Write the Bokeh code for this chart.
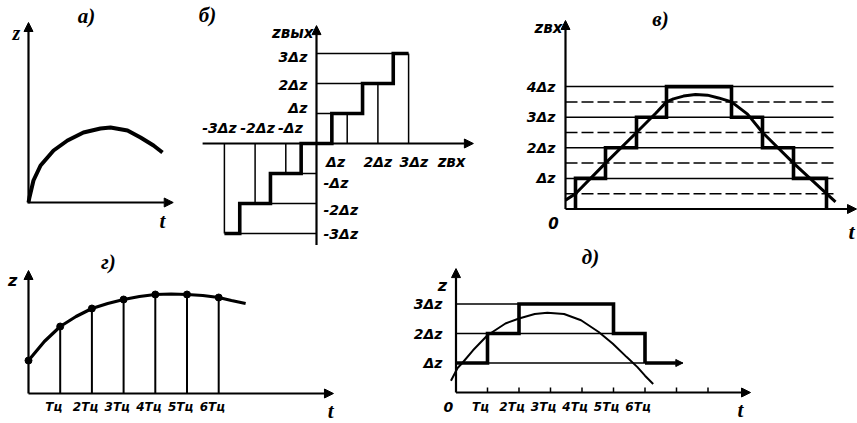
from bokeh.plotting import figure
from bokeh.models import Range1d, Arrow, NormalHead, Label
from bokeh.layouts import column, row
from bokeh.embed import file_html
from bokeh.resources import INLINE

# ---------------------------------------------------------------- data
# а) continuous signal z(t)
a_t = [0.0, 0.07, 0.37, 0.9, 1.87, 2.91, 4.1, 5.37, 6.12, 7.39, 8.36, 9.33, 10.0]
a_z = [0.0, 0.5, 2.2, 3.7, 5.2, 6.2, 7.0, 7.4, 7.5, 7.2, 6.5, 5.7, 5.0]

# б) quantizer characteristic z_out(z_in), in units of Δz
b_levels = [-3, -2, -1, 0, 1, 2, 3]
b_thresholds = [-2.5, -1.5, -0.5, 0.5, 1.5, 2.5]
b_span = 3
b_x_labels_pos = ["Δz", "2Δz", "3Δz"]
b_x_labels_neg = ["-3Δz", "-2Δz", "-Δz"]
b_y_labels_pos = ["Δz", "2Δz", "3Δz"]
b_y_labels_neg = ["-Δz", "-2Δz", "-3Δz"]

# в) level quantization of a signal
v_t = [0.0, 1.0, 4.0, 7.1, 9.0, 10.1, 10.8, 11.8, 13.0, 14.2, 15.3, 16.6, 18.2, 19.7, 22.8, 26.1, 27.0]
v_z = [0.29, 0.5, 1.5, 2.5, 3.12, 3.5, 3.60, 3.69, 3.74, 3.72, 3.63, 3.5, 3.10, 2.5, 1.5, 0.5, 0.23]
v_switch_t = [1.0, 4.0, 7.1, 10.1, 16.6, 19.7, 22.8, 26.1]
v_switch_level = [1, 2, 3, 4, 3, 2, 1, 0]
v_levels = [1, 2, 3, 4]
v_half_levels = [0.5, 1.5, 2.5, 3.5]
v_level_labels = ["Δz", "2Δz", "3Δz", "4Δz"]
v_t_end = 26.8

# г) time sampling with period Tц
g_k = [0, 1, 2, 3, 4, 5, 6]
g_samples = [3.3, 6.7, 8.5, 9.4, 9.9, 9.9, 9.6]
g_curve_t = [0, 0.5, 1, 1.5, 2, 2.5, 3, 3.5, 4, 4.5, 5, 5.5, 6, 6.4, 6.85]
g_curve_z = [3.3, 5.2, 6.7, 7.7, 8.5, 9.0, 9.4, 9.7, 9.9, 9.95, 9.9, 9.8, 9.6, 9.3, 9.0]
g_tick_labels = ["Tц", "2Tц", "3Tц", "4Tц", "5Tц", "6Tц"]

# д) sampling and quantization combined
d_curve_t = [-0.16, 0.05, 0.2, 0.54, 1.0, 1.57, 2.0, 2.5, 2.9, 3.43, 3.97, 4.53, 4.98, 5.42, 5.76, 6.0, 6.26]
d_curve_z = [0.40, 0.83, 1.0, 1.43, 1.94, 2.34, 2.51, 2.66, 2.70, 2.66, 2.45, 2.05, 1.65, 1.20, 0.86, 0.57, 0.29]
d_start_level = 1
d_switch_t = [1, 2, 5, 6]
d_switch_level = [2, 3, 2, 1]
d_end_t = 7.2
d_levels = [1, 2, 3]
d_level_labels = ["Δz", "2Δz", "3Δz"]
d_ticks = [1, 2, 3, 4, 5, 6, 7, 8]
d_tick_labels = ["Tц", "2Tц", "3Tц", "4Tц", "5Tц", "6Tц"]

# ---------------------------------------------------------------- style
SANS = "DejaVu Sans"
SERIF = "Liberation Serif"
INK = "black"
THICK = 3.6
THIN = 1.5
AXIS = 2.2
LBL = "14px"


def panel(w, h, ox, oy, sx, sy):
    """Blank drawing area whose data origin sits at pixel (ox, oy) from the top-left."""
    return figure(
        width=w, height=h,
        x_range=Range1d(-ox / sx, (w - ox) / sx),
        y_range=Range1d(-(h - oy) / sy, oy / sy),
        x_axis_type=None, y_axis_type=None,
        toolbar_location=None, output_backend="svg",
        min_border=0, outline_line_color=None,
        background_fill_color="white", border_fill_color="white",
    )


def axis_arrow(p, x0, y0, x1, y1, lw=AXIS, size=9):
    p.add_layout(Arrow(end=NormalHead(size=size, fill_color=INK, line_color=INK, line_width=1),
                       x_start=x0, y_start=y0, x_end=x1, y_end=y1,
                       line_width=lw, line_color=INK))


def label(p, x, y, text, size=LBL, align="center", font=SANS, style="bold italic"):
    p.add_layout(Label(x=x, y=y, text=text, text_font=font, text_font_size=size,
                       text_font_style=style, text_align=align, text_baseline="middle",
                       text_color=INK))


def staircase(start_t, start_level, switch_t, switch_level, end_t=None):
    xs, ys = [start_t], [start_level]
    prev = start_level
    for t, lvl in zip(switch_t, switch_level):
        xs += [t, t]
        ys += [prev, lvl]
        prev = lvl
    if end_t is not None:
        xs.append(end_t)
        ys.append(prev)
    return xs, ys


# ---------------------------------------------------------------- а)
pa = panel(190, 245, 28, 202, 13.4, 10)
axis_arrow(pa, 0, -0.1, 0, 18.0)
axis_arrow(pa, 0, 0, 10.8, 0)
pa.line(a_t, a_z, line_width=4, line_color=INK)
label(pa, 4.33, 18.7, "а)", size="21px", font=SERIF)
label(pa, -0.9, 17.0, "z", size="20px", font=SERIF)
label(pa, 10.0, -1.8, "t", size="21px", font=SERIF)

# ---------------------------------------------------------------- б)
pb = panel(315, 245, 126, 143, 30.7, 30)
axis_arrow(pb, 0, -3.4, 0, 3.93)
axis_arrow(pb, -3.71, 0, 5.11, 0)
nonzero = [lv for lv in b_levels if lv != 0]
# thin verticals from the input axis to each output level
pb.segment(x0=nonzero, y0=[0] * len(nonzero), x1=nonzero, y1=nonzero,
           line_width=THIN, line_color=INK)
# thin horizontals from the output axis to the switching threshold
thr_near = [lv - 0.5 if lv > 0 else lv + 0.5 for lv in nonzero]
pb.segment(x0=[0] * len(nonzero), y0=nonzero, x1=thr_near, y1=nonzero,
           line_width=THIN, line_color=INK)
bx, by = staircase(-b_span, b_levels[0], b_thresholds, b_levels[1:], b_span)
pb.line(bx, by, line_width=THICK, line_color=INK, line_join="miter")
for lv, dx_, txt in zip([1, 2, 3], [-0.38, 0.0, 0.17], b_x_labels_pos):
    label(pb, lv + dx_, -0.63, txt)
for lv, dx_, txt in zip([-3, -2, -1], [-0.16, 0.08, 0.15], b_x_labels_neg):
    label(pb, lv + dx_, 0.52, txt)
for lv, dy_, txt in zip([1, 2, 3], [0.17, -0.05, -0.1], b_y_labels_pos):
    label(pb, -0.3, lv + dy_, txt, align="right")
for lv, dy_, txt in zip([-1, -2, -3], [-0.3, -0.2, 0.0], b_y_labels_neg):
    label(pb, 0.23, lv + dy_, txt, align="left")
label(pb, -0.1, 3.7, "zвых", size="15px", align="right")
label(pb, 4.4, -0.63, "zвх", size="15px")
label(pb, -3.55, 4.27, "б)", size="21px", font=SERIF)

# ---------------------------------------------------------------- в)
pc = panel(352, 245, 60, 208.5, 10, 30.6)
pc.segment(x0=[0] * len(v_levels), y0=v_levels, x1=[v_t_end] * len(v_levels), y1=v_levels,
           line_width=THIN, line_color=INK)
pc.segment(x0=[0] * len(v_half_levels), y0=v_half_levels,
           x1=[v_t_end] * len(v_half_levels), y1=v_half_levels,
           line_width=THIN, line_color=INK, line_dash="12 4")
axis_arrow(pc, 0, 0, 0, 6.16)
axis_arrow(pc, 0, 0, 29.1, 0)
vx, vy = staircase(v_switch_t[0], 0, v_switch_t, v_switch_level)
pc.line(vx[1:], vy[1:], line_width=THICK, line_color=INK, line_join="miter")
pc.line(v_t, v_z, line_width=3, line_color=INK)
for lv, txt in zip(v_levels, v_level_labels):
    label(pc, -1.0, lv, txt, align="right")
label(pc, -0.3, 5.9, "zвх", size="15px", align="right")
label(pc, -1.2, -0.45, "0", size="15px")
label(pc, 28.6, -0.72, "t", size="22px", font=SERIF)
label(pc, 9.5, 6.2, "в)", size="21px", font=SERIF)

# ---------------------------------------------------------------- г)
pg = panel(390, 178, 28, 148, 31.7, 10)
axis_arrow(pg, 0, 0, 0, 12.3)
axis_arrow(pg, 0, 0, 9.62, 0)
pg.segment(x0=g_k[1:], y0=[0] * (len(g_k) - 1), x1=g_k[1:], y1=g_samples[1:],
           line_width=2, line_color=INK)
pg.line(g_curve_t, g_curve_z, line_width=3.2, line_color=INK)
pg.scatter(g_k, g_samples, size=7, color=INK)
for k, txt in zip(g_k[1:], g_tick_labels):
    label(pg, k - 0.2, -1.3, txt, size="12px")
label(pg, -0.5, 11.3, "z", size="16px")
label(pg, 9.53, -1.7, "t", size="21px", font=SERIF)
label(pg, 2.52, 13.2, "г)", size="21px", font=SERIF)

# ---------------------------------------------------------------- д)
pd = panel(467, 178, 65.5, 147, 31.5, 29.5)
d_level_end = []
for lv in d_levels:
    # a level line runs until the staircase finally drops below it
    sx, sy = staircase(0, d_start_level, d_switch_t, d_switch_level, d_end_t)
    above = [x for x, y in zip(sx, sy) if y >= lv]
    d_level_end.append(max(above))
pd.segment(x0=[0] * len(d_levels), y0=d_levels, x1=d_level_end, y1=d_levels,
           line_width=THIN, line_color=INK)
axis_arrow(pd, 0, 0, 0, 4.2)
axis_arrow(pd, 0, 0, 9.35, 0, lw=2)
pd.segment(x0=d_ticks, y0=[0] * len(d_ticks), x1=d_ticks, y1=[0.17] * len(d_ticks),
           line_width=1.5, line_color=INK)
dx, dy = staircase(0, d_start_level, d_switch_t, d_switch_level)
pd.line(dx, dy, line_width=THICK, line_color=INK, line_join="miter")
axis_arrow(pd, d_switch_t[-1], d_switch_level[-1], d_end_t, d_switch_level[-1], lw=THICK, size=7)
pd.line(d_curve_t, d_curve_z, line_width=2, line_color=INK)
for lv, txt in zip(d_levels, d_level_labels):
    label(pd, -0.43, lv, txt, align="right")
for k, txt in zip(d_ticks, d_tick_labels):
    label(pd, k - 0.22, -0.5, txt, size="12px")
label(pd, -0.24, -0.5, "0", size="14px")
label(pd, -0.43, 3.63, "z", size="16px")
label(pd, 9.03, -0.61, "t", size="21px", font=SERIF)
label(pd, 4.27, 4.61, "д)", size="21px", font=SERIF)

layout = column(row(pa, pb, pc), row(pg, pd))
open("out.html", "w").write(file_html(layout, INLINE))
